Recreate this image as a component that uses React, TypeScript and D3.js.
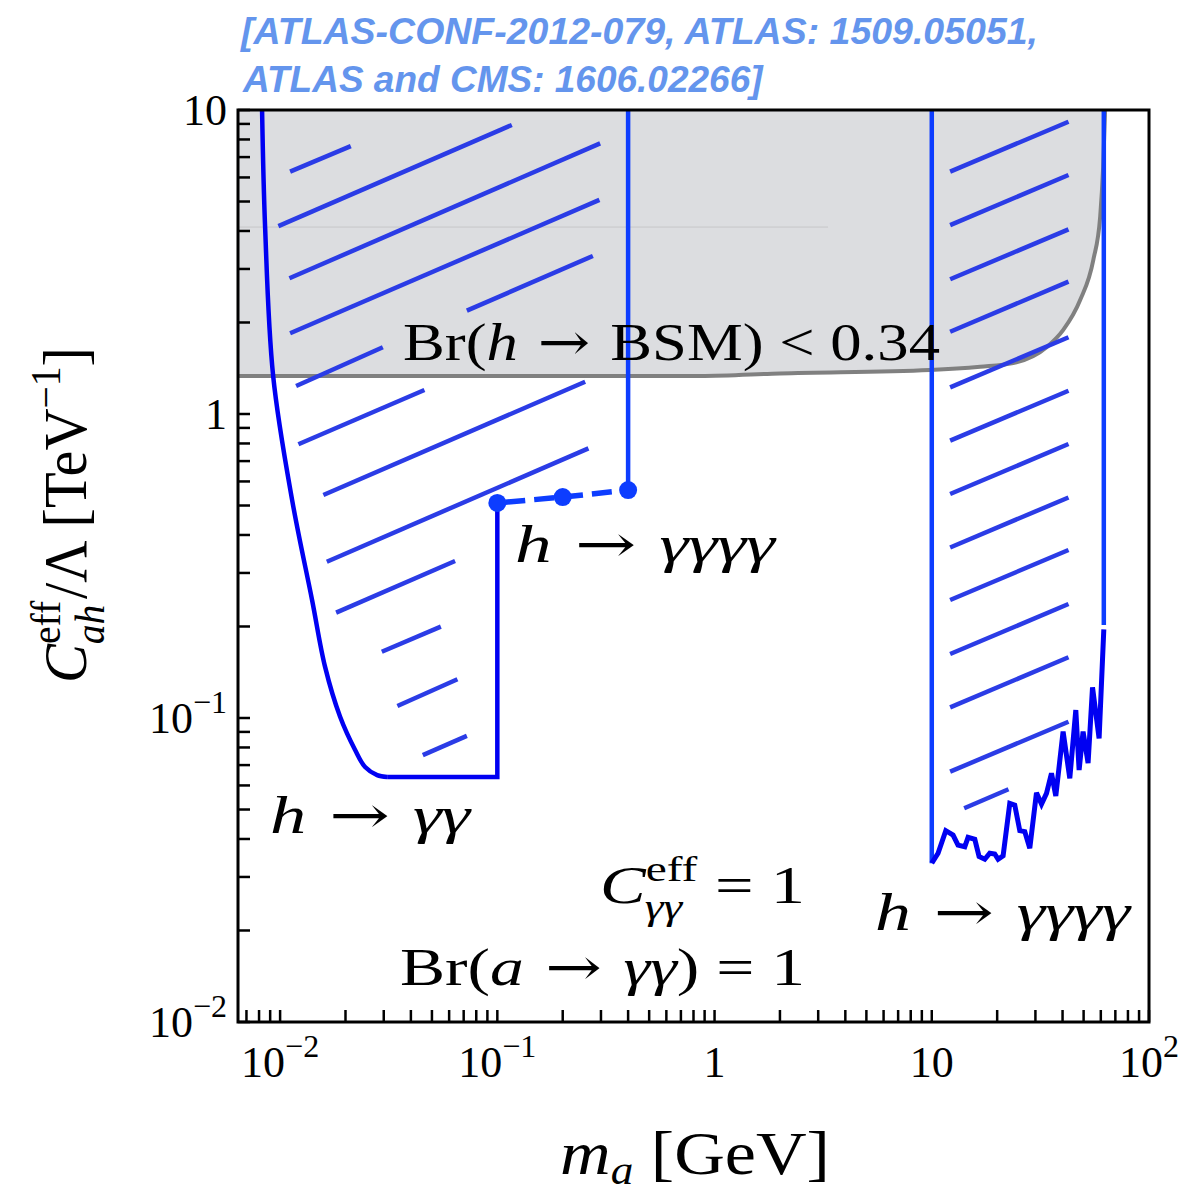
import React from "react";
import * as d3 from "d3";

const W = 1187;
const H = 1193;
const PLOT = { left: 238, right: 1149, top: 110, bottom: 1022 };

// axis domains (m_a in GeV, C_ah^eff / Lambda in TeV^-1)
const massDomain: [number, number] = [0.0064, 100];
const couplingDomain: [number, number] = [0.01, 10];

// major tick labels
const xTickValues = [0.01, 0.1, 1, 10, 100];
const xTickBase = ["10", "10", "1", "10", "10"];
const xTickSup = ["−2", "−1", "", "", "2"];
const yTickValues = [0.01, 0.1, 1, 10];
const yTickBase = ["10", "10", "1", "10"];
const yTickSup = ["−2", "−1", "", ""];

// Br(h -> BSM) < 0.34 bound: [m_a, C]
const brBound: [number, number][] = [
  [0.0064, 1.334], [0.86, 1.334], [2.0, 1.36], [9.8, 1.395], [16.7, 1.43],
  [23.7, 1.47], [34, 1.665], [40.3, 1.89], [48.2, 2.37], [55.4, 3.21],
  [59.6, 4.46], [61.5, 6.5], [62.8, 10],
];

// h -> gamma gamma exclusion boundary (smooth part, then flat floor and edge)
const diphotonCurve: [number, number][] = [
  [0.00826, 10], [0.00853, 4.12], [0.00929, 1.334], [0.01136, 0.521],
  [0.01404, 0.244], [0.01612, 0.147], [0.01889, 0.101], [0.02215, 0.0785],
  [0.02462, 0.069], [0.02797, 0.0649], [0.0311, 0.064],
];
const diphotonFloor: [number, number][] = [
  [0.0311, 0.064], [0.1, 0.064], [0.1, 0.51],
];

// h -> 4 gamma (low mass) points and edge
const fourPhotonLow: [number, number][] = [
  [0.1, 0.51], [0.2, 0.533], [0.4, 0.562],
];
const fourPhotonLowEdge: [number, number][] = [[0.4, 0.562], [0.4, 10]];

// h -> 4 gamma (high mass) boundary
const fourPhotonHighEdge: [number, number][] = [[10, 10], [10, 0.0333]];
const fourPhotonHigh: [number, number][] = [
  [10, 0.0333], [10.69, 0.0359], [11.6, 0.0426], [12.53, 0.0412],
  [13.21, 0.0382], [14.19, 0.0377], [14.69, 0.0405], [15.78, 0.0399],
  [16.51, 0.035], [17.54, 0.0343], [18.49, 0.0359], [19.5, 0.0357],
  [20.2, 0.0343], [21.3, 0.0352], [22.86, 0.0524], [24.1, 0.0517],
  [25.42, 0.0426], [26.8, 0.0423], [28.26, 0.0373], [30.34, 0.0568],
  [32.0, 0.0521], [33.74, 0.0565], [35.57, 0.0658], [37.23, 0.0554],
  [40.23, 0.0902], [43.19, 0.0633], [46.03, 0.1062], [47.67, 0.0674],
  [49.72, 0.0902], [52.43, 0.071], [54.95, 0.1262], [58.92, 0.0857],
  [61.94, 0.1957],
];
const fourPhotonHighTop: [number, number][] = [[61.94, 0.2023], [61.94, 10]];

// hatching segments [m1, C1, m2, C2]
const hatchLow: [number, number, number, number][] = [
  [0.01112, 6.27, 0.02115, 7.61],
  [0.00982, 4.15, 0.1166, 8.93],
  [0.01104, 2.795, 0.2974, 7.77],
  [0.01112, 1.843, 0.2951, 5.06],
  [0.0724, 2.187, 0.2753, 3.31],
  [0.01185, 1.236, 0.02971, 1.658],
  [0.01214, 0.795, 0.04617, 1.199],
  [0.01582, 0.5416, 0.2537, 1.277],
  [0.01641, 0.3266, 0.2627, 0.771],
  [0.01811, 0.2221, 0.0639, 0.3284],
  [0.02939, 0.1652, 0.05495, 0.1998],
  [0.03467, 0.1095, 0.06551, 0.1341],
  [0.04539, 0.0755, 0.0724, 0.0873],
];
const hatchHigh: [number, number, number, number][] = [
  [12.15, 6.27, 42.6, 9.15],
  [12.15, 4.18, 42.6, 6.11],
  [12.15, 2.774, 42.6, 4.05],
  [12.15, 1.865, 42.6, 2.724],
  [12.15, 1.224, 42.6, 1.788],
  [12.15, 0.817, 42.6, 1.193],
  [12.15, 0.5455, 42.6, 0.7967],
  [12.15, 0.3638, 42.6, 0.5314],
  [12.15, 0.2444, 42.6, 0.357],
  [12.15, 0.1624, 42.6, 0.2371],
  [12.15, 0.1084, 42.6, 0.1584],
  [12.15, 0.0666, 42.6, 0.0972],
  [14.1, 0.0505, 22.55, 0.0583],
];

// faint rendering seam inside the shaded band
const seam: [number, number][] = [[0.0064, 4.12], [3.33, 4.12]];

const BLUE_DEEP = "#0000f2";
const BLUE_BRIGHT = "#0d3dff";
const HATCH = "#2b3ce6";
const SERIF = "'Liberation Serif', 'Times New Roman', serif";
const SANS = "'Liberation Sans', Arial, sans-serif";
const ARROW_FONT = "'DejaVu Serif', serif";

const Arrow = () => (
  <tspan fontFamily={ARROW_FONT} fontStyle="normal"> → </tspan>
);

export default function App() {
  const x = d3.scaleLog().domain(massDomain).range([PLOT.left, PLOT.right]);
  const y = d3.scaleLog().domain(couplingDomain).range([PLOT.bottom, PLOT.top]);

  const straight = d3
    .line<[number, number]>()
    .x((d) => x(d[0]))
    .y((d) => y(d[1]));
  const smooth = d3
    .line<[number, number]>()
    .x((d) => x(d[0]))
    .y((d) => y(d[1]))
    .curve(d3.curveCatmullRom.alpha(0.5));
  const brLine = d3
    .line<[number, number]>()
    .x((d) => x(d[0]))
    .y((d) => y(d[1]))
    .curve(d3.curveMonotoneX);

  const brArea =
    brLine(brBound) +
    `L${x(brBound[brBound.length - 1][0])},${y(10)}L${x(massDomain[0])},${y(10)}Z`;

  const xMinor = x.ticks();
  const yMinor = y.ticks();
  const tickLen = 12;

  return (
    <svg
      width={W}
      height={H}
      viewBox={`0 0 ${W} ${H}`}
      style={{ display: "block", position: "absolute", left: 0, top: 0 }}
    >
      <rect width={W} height={H} fill="#ffffff" />

      {/* reference list */}
      <g fontFamily={SANS} fontWeight="bold" fontStyle="italic" fontSize={37} fill="#6495ed">
        <text x={241} y={44} textLength={797} lengthAdjust="spacingAndGlyphs">
          [ATLAS-CONF-2012-079, ATLAS: 1509.05051,
        </text>
        <text x={243} y={92}>ATLAS and CMS: 1606.02266]</text>
      </g>

      <defs>
        <clipPath id="plotClip">
          <rect x={PLOT.left} y={PLOT.top} width={PLOT.right - PLOT.left} height={PLOT.bottom - PLOT.top} />
        </clipPath>
      </defs>

      <g clipPath="url(#plotClip)">
        {/* Br(h -> BSM) excluded region */}
        <path d={brArea} fill="#dcdde0" />
        <path d={straight(seam) ?? ""} stroke="#c6c6c8" strokeWidth={1} fill="none" />
        <path d={brLine(brBound) ?? ""} stroke="#808080" strokeWidth={4} fill="none" />

        {/* hatching */}
        <g stroke={HATCH} strokeWidth={4.5} strokeLinecap="butt">
          {[...hatchLow, ...hatchHigh].map((h, i) => (
            <line key={i} x1={x(h[0])} y1={y(h[1])} x2={x(h[2])} y2={y(h[3])} />
          ))}
        </g>

        {/* h -> gamma gamma */}
        <path d={smooth(diphotonCurve) ?? ""} stroke={BLUE_DEEP} strokeWidth={4.5} fill="none" />
        <path d={straight(diphotonFloor) ?? ""} stroke={BLUE_DEEP} strokeWidth={4.5} fill="none" strokeLinejoin="miter" />

        {/* h -> 4 gamma, low mass */}
        <path d={straight(fourPhotonLow) ?? ""} stroke={BLUE_BRIGHT} strokeWidth={5.5} strokeDasharray="20 9" strokeDashoffset={-8} fill="none" />
        <path d={straight(fourPhotonLowEdge) ?? ""} stroke={BLUE_BRIGHT} strokeWidth={4.5} fill="none" />
        {fourPhotonLow.map((d, i) => (
          <circle key={i} cx={x(d[0])} cy={y(d[1])} r={9} fill={BLUE_BRIGHT} />
        ))}

        {/* h -> 4 gamma, high mass */}
        <path d={straight(fourPhotonHighEdge) ?? ""} stroke={BLUE_BRIGHT} strokeWidth={4.5} fill="none" />
        <path d={straight(fourPhotonHigh) ?? ""} stroke={BLUE_DEEP} strokeWidth={5} fill="none" strokeLinejoin="miter" strokeMiterlimit={3} />
        <path d={straight(fourPhotonHighTop) ?? ""} stroke={BLUE_BRIGHT} strokeWidth={4.5} fill="none" />
      </g>

      {/* annotations */}
      <g fontFamily={SERIF} fill="#000">
        <text x={403} y={360} fontSize={52} textLength={537} lengthAdjust="spacingAndGlyphs">
          Br(<tspan fontStyle="italic">h</tspan><Arrow />BSM) &lt; 0.34
        </text>
        <text x={515} y={562} fontSize={52} textLength={260} lengthAdjust="spacingAndGlyphs">
          <tspan fontStyle="italic">h</tspan><Arrow /><tspan fontStyle="italic">γγγγ</tspan>
        </text>
        <text x={270} y={833} fontSize={52} textLength={200} lengthAdjust="spacingAndGlyphs">
          <tspan fontStyle="italic">h</tspan><Arrow /><tspan fontStyle="italic">γγ</tspan>
        </text>
        <text x={875} y={930} fontSize={52} textLength={255} lengthAdjust="spacingAndGlyphs">
          <tspan fontStyle="italic">h</tspan><Arrow /><tspan fontStyle="italic">γγγγ</tspan>
        </text>
        <text x={600} y={903} fontSize={52} textLength={205} lengthAdjust="spacingAndGlyphs">
          <tspan fontStyle="italic">C</tspan>
          <tspan fontSize={36} dy={-22}>eff</tspan>
          <tspan fontSize={36} fontStyle="italic" dx={-40} dy={38}>γγ</tspan>
          <tspan dy={-16} dx={12}> = 1</tspan>
        </text>
        <text x={400} y={985} fontSize={52} textLength={405} lengthAdjust="spacingAndGlyphs">
          Br(<tspan fontStyle="italic">a</tspan><Arrow /><tspan fontStyle="italic">γγ</tspan>) = 1
        </text>
      </g>

      {/* frame */}
      <rect
        x={PLOT.left}
        y={PLOT.top}
        width={PLOT.right - PLOT.left}
        height={PLOT.bottom - PLOT.top}
        fill="none"
        stroke="#000"
        strokeWidth={3}
      />

      {/* ticks */}
      <g stroke="#000" strokeWidth={2.5}>
        {xMinor.map((t, i) => (
          <line key={"x" + i} x1={x(t)} x2={x(t)} y1={PLOT.bottom} y2={PLOT.bottom - tickLen} />
        ))}
        {yMinor.map((t, i) => (
          <line key={"y" + i} x1={PLOT.left} x2={PLOT.left + tickLen} y1={y(t)} y2={y(t)} />
        ))}
      </g>

      {/* tick labels */}
      <g fontFamily={SERIF} fontSize={44} fill="#000">
        {xTickValues.map((v, i) => (
          <text key={"xl" + i} x={x(v)} y={1077} textAnchor="middle">
            {xTickBase[i]}
            {xTickSup[i] && (
              <tspan fontSize={32} dy={-20}>
                {xTickSup[i]}
              </tspan>
            )}
          </text>
        ))}
        {yTickValues.map((v, i) => (
          <text key={"yl" + i} x={227} y={y(v) + 15} textAnchor="end">
            {yTickBase[i]}
            {yTickSup[i] && (
              <tspan fontSize={32} dy={-20}>
                {yTickSup[i]}
              </tspan>
            )}
          </text>
        ))}
      </g>

      {/* axis titles */}
      <text x={560} y={1174} fontFamily={SERIF} fontSize={62} textLength={270} lengthAdjust="spacingAndGlyphs">
        <tspan fontStyle="italic">m</tspan>
        <tspan fontStyle="italic" fontSize={40} dy={10}>a</tspan>
        <tspan dy={-10}> [GeV]</tspan>
      </text>
      <g transform="translate(86,515) rotate(-90)">
        <text x={0} y={0} fontFamily={SERIF} fontSize={62} textAnchor="middle" textLength={336} lengthAdjust="spacingAndGlyphs">
          <tspan fontStyle="italic">C</tspan>
          <tspan fontSize={42} dy={-26}>eff</tspan>
          <tspan fontSize={42} fontStyle="italic" dx={-46} dy={44}>ah</tspan>
          <tspan dy={-18} dx={6}>/Λ  [TeV</tspan>
          <tspan fontSize={42} dy={-26}>−1</tspan>
          <tspan dy={26}>]</tspan>
        </text>
      </g>
    </svg>
  );
}
